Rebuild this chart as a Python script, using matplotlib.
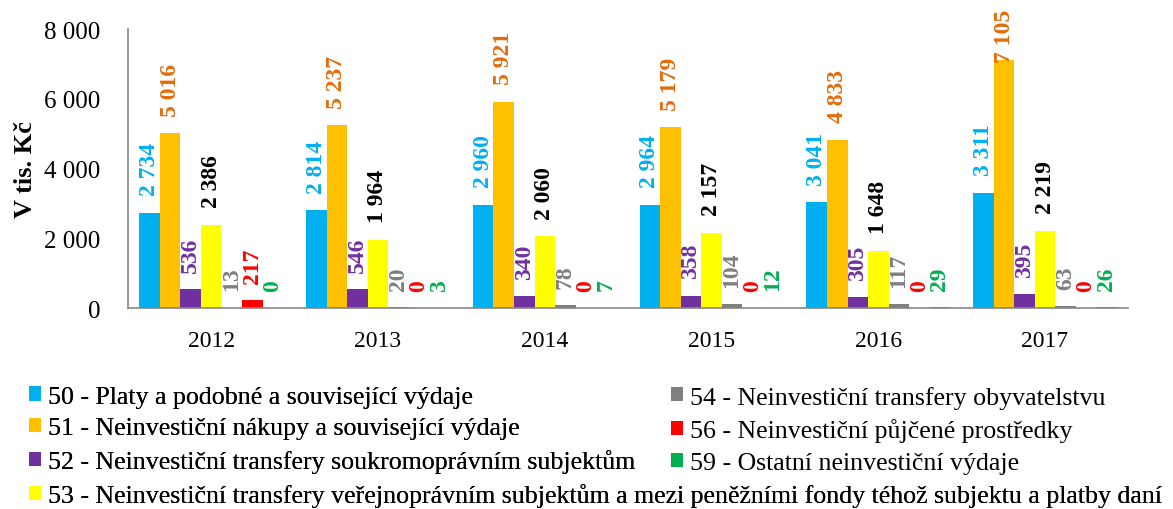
import matplotlib
matplotlib.use("Agg")
import matplotlib.pyplot as plt
import numpy as np

years = ["2012", "2013", "2014", "2015", "2016", "2017"]
series_names = [
    "50 - Platy a podobné a související výdaje",
    "51 - Neinvestiční nákupy a související výdaje",
    "52 - Neinvestiční transfery soukromoprávním subjektům",
    "53 - Neinvestiční transfery veřejnoprávním subjektům a mezi peněžními fondy téhož subjektu a platby daní",
    "54 - Neinvestiční transfery obyvatelstvu",
    "56 - Neinvestiční půjčené prostředky",
    "59 - Ostatní neinvestiční výdaje",
]
s50 = [2734, 2814, 2960, 2964, 3041, 3311]
s51 = [5016, 5237, 5921, 5179, 4833, 7105]
s52 = [536, 546, 340, 358, 305, 395]
s53 = [2386, 1964, 2060, 2157, 1648, 2219]
s54 = [13, 20, 78, 104, 117, 63]
s56 = [217, 0, 0, 0, 0, 0]
s59 = [0, 3, 7, 12, 29, 26]
series = [s50, s51, s52, s53, s54, s56, s59]

bar_colors = ["#00B0F0", "#FFC000", "#7030A0", "#FFFF00", "#7F7F7F", "#FF0000", "#00B050"]
label_colors = ["#00B0F0", "#E46C0A", "#7030A0", "#000000", "#7F7F7F", "#FF0000", "#00B050"]

plt.rcParams['font.family'] = ['Liberation Serif', 'DejaVu Serif']

DPI = 100
fig = plt.figure(figsize=(11.73, 5.10), dpi=DPI)
ax = fig.add_axes([0.109, 0.394, 0.853, 0.547])

x = np.arange(len(years))
w = 0.123
n = len(series)
PAD = 12.5
containers = []
all_labels = []
for i, (vals, bc, lc, name) in enumerate(zip(series, bar_colors, label_colors, series_names)):
    pos = x + (i - (n - 1) / 2) * w
    bars = ax.bar(pos, vals, width=w, color=bc, label=name)
    containers.append(bars)
    lbls = ax.bar_label(bars, labels=[f"{v:,}".replace(",", " ") for v in vals],
                        rotation=90, padding=PAD, color=lc, fontsize=17, fontweight='bold')
    all_labels.extend(lbls)

ax.set_xlim(-0.5, len(years) - 0.5)
ax.set_ylim(0, 8000)
yt = [0, 2000, 4000, 6000, 8000]
ax.set_yticks(yt)
ax.set_yticklabels([f"{v:,}".replace(",", " ") for v in yt], fontsize=18)
ax.set_xticks(x)
ax.set_xticklabels(years, fontsize=17)
ax.tick_params(axis='both', length=0)
ax.tick_params(axis='x', pad=16)
ax.tick_params(axis='y', pad=20)
for s in ['top', 'right']:
    ax.spines[s].set_visible(False)
for s in ['left', 'bottom']:
    ax.spines[s].set_color('#868686')
    ax.spines[s].set_linewidth(1.2)
ax.set_ylabel("V tis. Kč", fontsize=19, fontweight='bold', labelpad=5)

leg_kw = dict(loc='upper left', frameon=False, fontsize=18.6,
              handlelength=0.47, handleheight=0.47, handletextpad=0.25,
              labelspacing=0.38, borderpad=0, borderaxespad=0)
leg1 = fig.legend(handles=containers[:4], labels=series_names[:4],
                  bbox_to_anchor=(0.0247, 0.242), **leg_kw)
leg2 = fig.legend(handles=containers[4:], labels=series_names[4:],
                  bbox_to_anchor=(0.572, 0.242), **leg_kw)
fig.add_artist(leg1)

# keep data labels inside the figure (like Excel clamps them to the chart area)
fig.canvas.draw()
renderer = fig.canvas.get_renderer()
H = fig.bbox.height
for t in all_labels:
    bb = t.get_window_extent(renderer)
    limit = H - 10
    if bb.y1 > limit:
        dx, dy = t.xyann
        t.xyann = (dx, dy - (bb.y1 - limit) * 72 / DPI)

fig.savefig("out.png", dpi=DPI)
